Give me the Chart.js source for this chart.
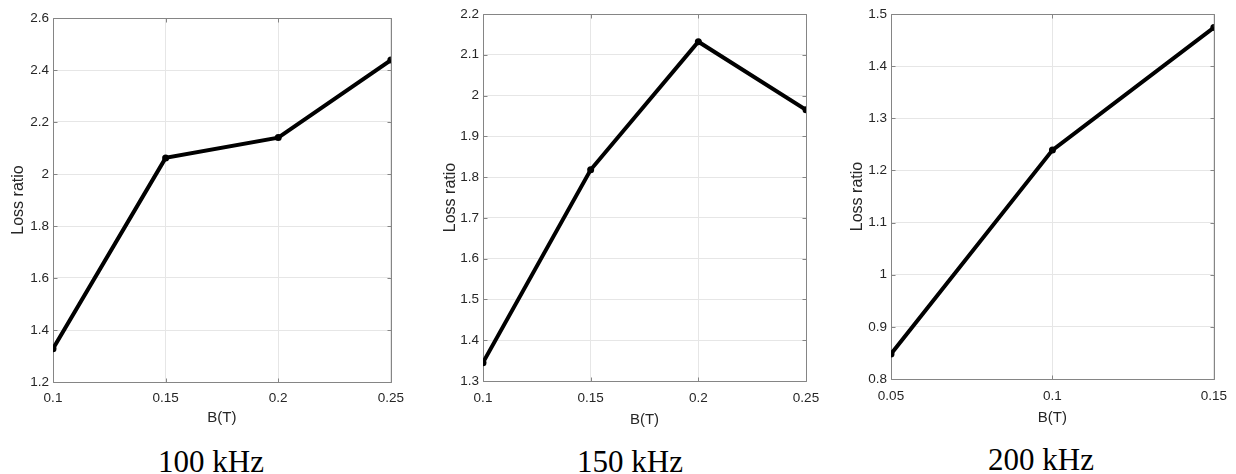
<!DOCTYPE html>
<html><head><meta charset="utf-8">
<script src="https://cdn.jsdelivr.net/npm/chart.js@4/dist/chart.umd.min.js"></script>
<style>
body{margin:0;background:#fff;width:1236px;height:474px;overflow:hidden;position:relative}
canvas{position:absolute;top:0}
.cap{position:absolute;font-family:"Liberation Serif","Times New Roman",serif;font-size:31px;color:#000;transform:translateX(-50%);white-space:nowrap;line-height:1}
</style></head><body>
<canvas id="c1" width="412" height="432" style="left:0px;width:412px;height:432px"></canvas>
<canvas id="c2" width="410" height="432" style="left:420px;width:410px;height:432px"></canvas>
<canvas id="c3" width="406" height="432" style="left:830px;width:406px;height:432px"></canvas>
<div class="cap" id="t1" style="left:211px;top:446px"></div>
<div class="cap" id="t2" style="left:630px;top:446px"></div>
<div class="cap" id="t3" style="left:1041px;top:444px"></div>
<script>
// ---- data ----
const titles = ["100 kHz", "150 kHz", "200 kHz"];
const xLabel = "B(T)";
const yLabel = "Loss ratio";
const b100 = [0.1, 0.15, 0.2, 0.25];
const loss100 = [1.328, 2.062, 2.14, 2.438];
const b150 = [0.1, 0.15, 0.2, 0.25];
const loss150 = [1.345, 1.818, 2.132, 1.965];
const b200 = [0.05, 0.1, 0.15];
const loss200 = [0.848, 1.239, 1.474];
const xRange100 = [0.1, 0.25, 0.05];
const yRange100 = [1.2, 2.6, 0.2];
const xRange150 = [0.1, 0.25, 0.05];
const yRange150 = [1.3, 2.2, 0.1];
const xRange200 = [0.05, 0.15, 0.05];
const yRange200 = [0.8, 1.5, 0.1];

document.getElementById('t1').textContent = titles[0];
document.getElementById('t2').textContent = titles[1];
document.getElementById('t3').textContent = titles[2];

const fmt = v => String(Number(v.toFixed(3)));

const boxPlugin = {
  id: 'matlabBox',
  beforeDatasetsDraw(chart) {
    const {ctx, chartArea: a, scales} = chart;
    ctx.save();
    ctx.strokeStyle = '#858585';
    ctx.lineWidth = 1;
    ctx.beginPath();
    const L = Math.round(a.left) + 0.5, R = Math.round(a.right) + 0.5;
    const T = Math.round(a.top) + 0.5, B = Math.round(a.bottom) + 0.5;
    ctx.rect(L, T, R - L, B - T);
    const tl = 4;
    scales.x.ticks.forEach(t => {
      const x = Math.round(scales.x.getPixelForValue(t.value)) + 0.5;
      ctx.moveTo(x, B); ctx.lineTo(x, B - tl);
      ctx.moveTo(x, T); ctx.lineTo(x, T + tl);
    });
    scales.y.ticks.forEach(t => {
      const y = Math.round(scales.y.getPixelForValue(t.value)) + 0.5;
      ctx.moveTo(L, y); ctx.lineTo(L + tl, y);
      ctx.moveTo(R, y); ctx.lineTo(R - tl, y);
    });
    ctx.stroke();
    ctx.restore();
  }
};

function makePanel(id, xs, ys, xr, yr, geo) {
  const pts = xs.map((x, i) => ({x: x, y: ys[i]}));
  const tickFont = {family: '"Liberation Sans", Arial, sans-serif', size: 13.5};
  const xTitleFont = {family: '"Liberation Sans", Arial, sans-serif', size: 15};
  const yTitleFont = {family: '"Liberation Sans", Arial, sans-serif', size: 16};
  new Chart(document.getElementById(id), {
    type: 'line',
    data: {datasets: [{
      data: pts,
      borderColor: '#000',
      backgroundColor: '#000',
      borderWidth: 4,
      pointRadius: 3.5,
      pointBackgroundColor: '#000',
      pointBorderWidth: 0,
      tension: 0
    }]},
    options: {
      responsive: false,
      animation: false,
      devicePixelRatio: 1,
      layout: {padding: {left: 0, right: geo.padR, top: geo.padT, bottom: 0}},
      plugins: {legend: {display: false}, tooltip: {enabled: false}},
      scales: {
        x: {
          type: 'linear', min: xr[0], max: xr[1],
          afterBuildTicks: s => { s.ticks = []; for (let v = xr[0]; v <= xr[1] + 1e-9; v += xr[2]) s.ticks.push({value: Number(v.toFixed(4))}); },
          ticks: {callback: v => fmt(v), font: tickFont, color: '#262626', padding: geo.xTickPad, maxRotation: 0, autoSkip: false},
          grid: {color: '#e6e6e6', drawTicks: false},
          border: {display: false},
          title: {display: true, text: xLabel, font: xTitleFont, color: '#262626', padding: {top: 0, bottom: geo.xTitlePad}},
          afterFit: s => { s.height = geo.xH; }
        },
        y: {
          type: 'linear', min: yr[0], max: yr[1],
          afterBuildTicks: s => { s.ticks = []; for (let v = yr[0]; v <= yr[1] + 1e-9; v += yr[2]) s.ticks.push({value: Number(v.toFixed(4))}); },
          ticks: {callback: v => fmt(v), font: tickFont, color: '#262626', padding: 4, autoSkip: false},
          grid: {color: '#e6e6e6', drawTicks: false},
          border: {display: false},
          title: {display: true, text: yLabel, font: yTitleFont, color: '#262626', padding: {top: geo.yTitlePad, bottom: 0}},
          afterFit: s => { s.width = geo.yW; }
        }
      }
    },
    plugins: [boxPlugin]
  });
}

makePanel('c1', b100, loss100, xRange100, yRange100,
  {yW: 53, padR: 18, padT: 18, xH: 432 - 382, xTickPad: 8, xTitlePad: 5, yTitlePad: 8.5});
makePanel('c2', b150, loss150, xRange150, yRange150,
  {yW: 63, padR: 24, padT: 14, xH: 432 - 381, xTickPad: 9, xTitlePad: 3, yTitlePad: 20.5});
makePanel('c3', b200, loss200, xRange200, yRange200,
  {yW: 61, padR: 18, padT: 14, xH: 432 - 379, xTickPad: 9, xTitlePad: 5, yTitlePad: 17.5});
</script>
</body></html>
